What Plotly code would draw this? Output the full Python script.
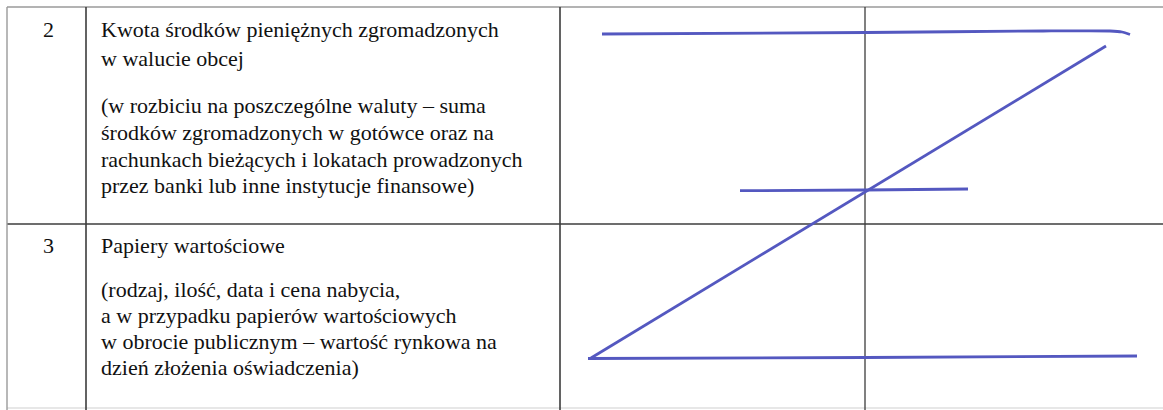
import plotly.graph_objects as go

# ---------------- data ----------------
row_numbers = ["2", "3"]
row2_title = ["Kwota środków pieniężnych zgromadzonych", "w walucie obcej"]
row2_note = [
    "(w rozbiciu na poszczególne waluty – suma",
    "środków zgromadzonych w gotówce oraz na",
    "rachunkach bieżących i lokatach prowadzonych",
    "przez banki lub inne instytucje finansowe)",
]
row3_title = ["Papiery wartościowe"]
row3_note = [
    "(rodzaj, ilość, data i cena nabycia,",
    "a w przypadku papierów wartościowych",
    "w obrocie publicznym – wartość rynkowa na",
    "dzień złożenia oświadczenia)",
]

# handwritten "Z" strokes (page pixel coordinates)
stroke_top_x = [602, 866, 1043, 1110, 1122, 1130]
stroke_top_y = [34, 32.5, 31, 31, 32, 34.5]
stroke_diag_x = [1106, 591]
stroke_diag_y = [46, 358]
stroke_bottom_x = [588, 866, 1137]
stroke_bottom_y = [358.5, 357.5, 356]
stroke_mid_x = [740, 865, 968]
stroke_mid_y = [190.7, 190, 189]

# ---------------- layout constants ----------------
W, H = 1163, 410
FONT = "'Liberation Serif', 'Times New Roman', Tinos, 'DejaVu Serif', serif"
FS = 22
TXT_COLOR = "#111111"
PEN = "rgb(84,88,192)"
GRID = "#3c3c3c"
LIGHT = "#9a9a9a"

TOP, BOTTOM, LEFT = 7, 408, 7
COL_NUM, COL_TXT, COL_MID = 86, 560, 865
ROW_DIV = 224
TEXT_X = 100
NUM_X = 48
# baselines of text lines
row2_title_base = [37, 66]
row2_note_base = [113, 140, 166.5, 193]
row3_title_base = [253]
row3_note_base = [297, 323, 349, 375]
num_base = [37, 253]
MID_OFF = 0.3375 * FS  # baseline -> middle of text box

fig = go.Figure()

# table grid
shapes = []
def hline(y, x0, x1, color, w):
    shapes.append(dict(type="line", xref="x", yref="y", x0=x0, x1=x1, y0=y, y1=y,
                       line=dict(color=color, width=w), layer="below"))
def vline(x, y0, y1, color, w):
    shapes.append(dict(type="line", xref="x", yref="y", x0=x, x1=x, y0=y0, y1=y1,
                       line=dict(color=color, width=w), layer="below"))

hline(TOP, LEFT, W, LIGHT, 1.6)
hline(ROW_DIV, LEFT, W, GRID, 1.6)
hline(BOTTOM, LEFT, W, "#cfcfcf", 1.2)
vline(LEFT, TOP, H, LIGHT, 1.4)
vline(COL_NUM, TOP, H, GRID, 1.6)
vline(COL_TXT, TOP, H, GRID, 1.6)
vline(COL_MID, TOP, H, GRID, 1.3)

# pen strokes
for xs, ys in [(stroke_top_x, stroke_top_y), (stroke_diag_x, stroke_diag_y),
               (stroke_bottom_x, stroke_bottom_y), (stroke_mid_x, stroke_mid_y)]:
    fig.add_trace(go.Scatter(x=xs, y=ys, mode="lines", hoverinfo="skip",
                             line=dict(color=PEN, width=2.8, shape="spline", smoothing=0.6),
                             showlegend=False))

# texts
annotations = []
def add_lines(lines, bases, x, anchor="left"):
    for t, b in zip(lines, bases):
        annotations.append(dict(text=t, x=x, y=b - MID_OFF, xref="x", yref="y",
                                xanchor=anchor, yanchor="middle", showarrow=False,
                                font=dict(family=FONT, size=FS, color=TXT_COLOR),
                                borderpad=0))

add_lines(row_numbers, num_base, NUM_X, anchor="center")
add_lines(row2_title, row2_title_base, TEXT_X)
add_lines(row2_note, row2_note_base, TEXT_X)
add_lines(row3_title, row3_title_base, TEXT_X)
add_lines(row3_note, row3_note_base, TEXT_X)

fig.update_layout(
    width=W, height=H,
    margin=dict(l=0, r=0, t=0, b=0, pad=0),
    paper_bgcolor="white", plot_bgcolor="white",
    xaxis=dict(range=[0, W], visible=False, fixedrange=True),
    yaxis=dict(range=[H, 0], visible=False, fixedrange=True),
    shapes=shapes, annotations=annotations,
    showlegend=False,
)

fig.write_html("out.html", config={"displayModeBar": False, "staticPlot": True},
               post_script="document.body.style.margin='0';document.body.style.overflow='hidden';")
